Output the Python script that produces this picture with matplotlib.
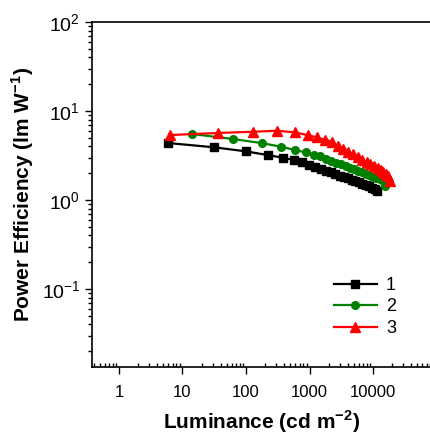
import matplotlib
matplotlib.use("Agg")
from matplotlib import pyplot as plt
from matplotlib.ticker import LogLocator, FixedLocator, FixedFormatter, NullFormatter

plt.rcParams['font.family'] = ['Liberation Sans', 'DejaVu Sans']
plt.rcParams['mathtext.fontset'] = 'custom'
plt.rcParams['mathtext.rm'] = 'Liberation Sans'
plt.rcParams['mathtext.bf'] = 'Liberation Sans:bold'
plt.rcParams['axes.unicode_minus'] = False

# Device 1 (black squares)
lum_1 = [5.9, 31.4, 100, 219, 377, 570, 765, 980, 1230, 1500, 1800, 2150, 2550,
         3000, 3500, 4050, 4650, 5300, 6000, 6800, 7700, 8700, 9800, 10900, 11400]
pe_1 = [4.37, 3.91, 3.52, 3.20, 2.99, 2.81, 2.65, 2.49, 2.35, 2.24, 2.14, 2.05, 1.96,
        1.88, 1.81, 1.75, 1.69, 1.63, 1.58, 1.53, 1.48, 1.42, 1.37, 1.32, 1.27]

# Device 2 (green circles)
lum_2 = [14, 62, 177, 356, 590, 870, 1180, 1470, 1800, 2200, 2650, 3150, 3700,
         4300, 5000, 5800, 6700, 7700, 8800, 10000, 11300, 12700, 14000, 15400]
pe_2 = [5.52, 4.85, 4.36, 3.97, 3.65, 3.43, 3.23, 3.09, 2.92, 2.77, 2.63, 2.51, 2.40,
        2.30, 2.21, 2.12, 2.04, 1.96, 1.89, 1.82, 1.76, 1.71, 1.66, 1.45]

# Device 3 (red triangles)
lum_3 = [6.35, 35.7, 127, 311, 585, 930, 1290, 1740, 2230, 2800, 3400, 4100, 4900,
         5800, 6800, 7900, 9100, 10400, 11800, 13200, 14600, 16000, 17400, 18600]
pe_3 = [5.37, 5.66, 5.85, 6.00, 5.76, 5.37, 5.06, 4.76, 4.52, 4.07, 3.76, 3.49, 3.25,
        3.03, 2.83, 2.66, 2.51, 2.38, 2.26, 2.16, 2.07, 1.97, 1.86, 1.65]

x_ticks = [1, 10, 100, 1000, 10000]
x_tick_labels = ['1', '10', '100', '1000', '10000']

fig = plt.figure(figsize=(4.31, 4.42), dpi=100)
ax = fig.add_axes([0.2135, 0.1697, 0.7865, 0.7805])

ax.plot(lum_1, pe_1, 's-', color='black', lw=1.6, ms=5.5, label='1')
ax.plot(lum_2, pe_2, 'o-', color='green', lw=1.6, ms=5.5, label='2')
ax.plot(lum_3, pe_3, '^-', color='red', lw=1.6, ms=7, label='3')

ax.set_xscale('log')
ax.set_yscale('log')
ax.set_xlim(0.376, 81900)
ax.set_ylim(0.0133, 100)

ax.xaxis.set_major_locator(FixedLocator(x_ticks))
ax.xaxis.set_major_formatter(FixedFormatter(x_tick_labels))
ax.xaxis.set_minor_locator(LogLocator(base=10, subs=range(2, 10), numticks=20))
ax.xaxis.set_minor_formatter(NullFormatter())
ax.yaxis.set_major_locator(LogLocator(base=10, numticks=10))
ax.yaxis.set_minor_locator(LogLocator(base=10, subs=range(2, 10), numticks=20))
ax.yaxis.set_minor_formatter(NullFormatter())

ax.tick_params(axis='x', which='major', direction='out', length=5, width=1, labelsize=12, pad=8)
ax.tick_params(axis='x', which='minor', direction='in', length=3, width=1)
ax.tick_params(axis='y', which='major', direction='out', length=5, width=1, labelsize=14)
ax.tick_params(axis='y', which='minor', direction='out', length=3, width=1)

ax.spines['right'].set_visible(False)
for s in ['left', 'bottom', 'top']:
    ax.spines[s].set_linewidth(1.2)

ax.set_xlabel(r'Luminance (cd m$^{\mathbf{-2}}$)', fontsize=15, fontweight='bold', labelpad=6)
ax.set_ylabel(r'Power Efficiency (lm W$^{\mathbf{-1}}$)', fontsize=15, fontweight='bold', labelpad=4)

ax.legend(loc='lower right', bbox_to_anchor=(0.945, 0.04), frameon=False, fontsize=13,
          handlelength=2.4, labelspacing=0.25, handletextpad=0.5)

fig.savefig('out.png', dpi=100)
